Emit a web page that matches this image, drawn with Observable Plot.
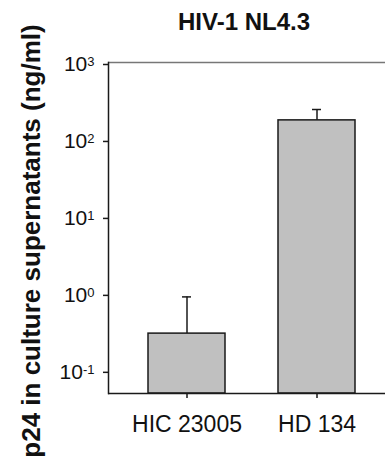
<!DOCTYPE html>
<html>
<head>
<meta charset="utf-8">
<script src="https://cdn.jsdelivr.net/npm/d3@7"></script>
<script src="https://cdn.jsdelivr.net/npm/@observablehq/plot@0.6"></script>
<style>
  html, body { margin: 0; padding: 0; background: #fff; }
  svg { font-family: "Liberation Sans", Arial, sans-serif; }
</style>
</head>
<body>
<div id="chart"></div>
<script>
const categories = ["HIC 23005", "HD 134"];
const means = [0.30, 177];
const upper = [0.90, 245];
const yTicks = [0.1, 1, 10, 100, 1000];
const yTickExponents = ["-1", "0", "1", "2", "3"];
const title = "HIV-1 NL4.3";
const yLabel = "p24 in culture supernatants (ng/ml)";

const data = categories.map((c, i) => ({cat: c, mean: means[i], up: upper[i]}));
const base = 0.05;

const chart = Plot.plot({
  width: 385,
  height: 463,
  marginLeft: 108,
  marginRight: 0,
  marginTop: 62,
  marginBottom: 70,
  style: {fontFamily: "Liberation Sans, Arial, sans-serif", color: "#111", background: "#fff"},
  x: {domain: categories, range: [94, 409], padding: 0.405},
  y: {type: "log", domain: [base, 1000]},
  marks: [
    Plot.ruleY([1000], {stroke: "#777", strokeWidth: 1.5}),
    Plot.barY(data, {x: "cat", y1: () => base, y2: "mean", fill: "#c0c0c0", stroke: "#1a1a1a", strokeWidth: 1.5}),
    Plot.ruleX(data, {x: "cat", y1: "mean", y2: "up", stroke: "#1a1a1a", strokeWidth: 1.5}),
    Plot.tickY(data, {x: "cat", y: "up", stroke: "#1a1a1a", strokeWidth: 1.5, insetLeft: 34, insetRight: 34}),
    Plot.axisY({ticks: yTicks, tickFormat: (d) => "10^" + yTickExponents[yTicks.indexOf(d)], tickSize: 5, tickPadding: 9, dy: 2, fontSize: 21, label: null, stroke: "#1a1a1a", strokeWidth: 1.5}),
    Plot.frame({anchor: "left", stroke: "#1a1a1a", strokeWidth: 1.5}),
    Plot.axisX({tickSize: 5, tickPadding: 17, fontSize: 23, label: null, stroke: "#1a1a1a", strokeWidth: 1.5}),
    Plot.ruleY([base], {stroke: "#1a1a1a", strokeWidth: 1.5}),
    Plot.text([title], {frameAnchor: "top", lineAnchor: "middle", dx: -3, dy: -40, fontSize: 24, fontWeight: "bold", fill: "#111"}),
    Plot.text([yLabel], {frameAnchor: "left", textAnchor: "middle", lineAnchor: "middle", rotate: -90, dx: -77, dy: 13, fontSize: 26, fontWeight: "bold", fill: "#111"})
  ]
});
// Render exponents as raised superscripts
d3.select(chart).selectAll("text").each(function () {
  const t = this.textContent;
  const m = /^10\^(-?\d+)$/.exec(t);
  if (m) {
    const el = d3.select(this);
    el.text("10");
    el.append("tspan").attr("dy", "-0.42em").attr("font-size", "13px").text(m[1]);
  }
});
document.getElementById("chart").appendChild(chart);
</script>
</body>
</html>
